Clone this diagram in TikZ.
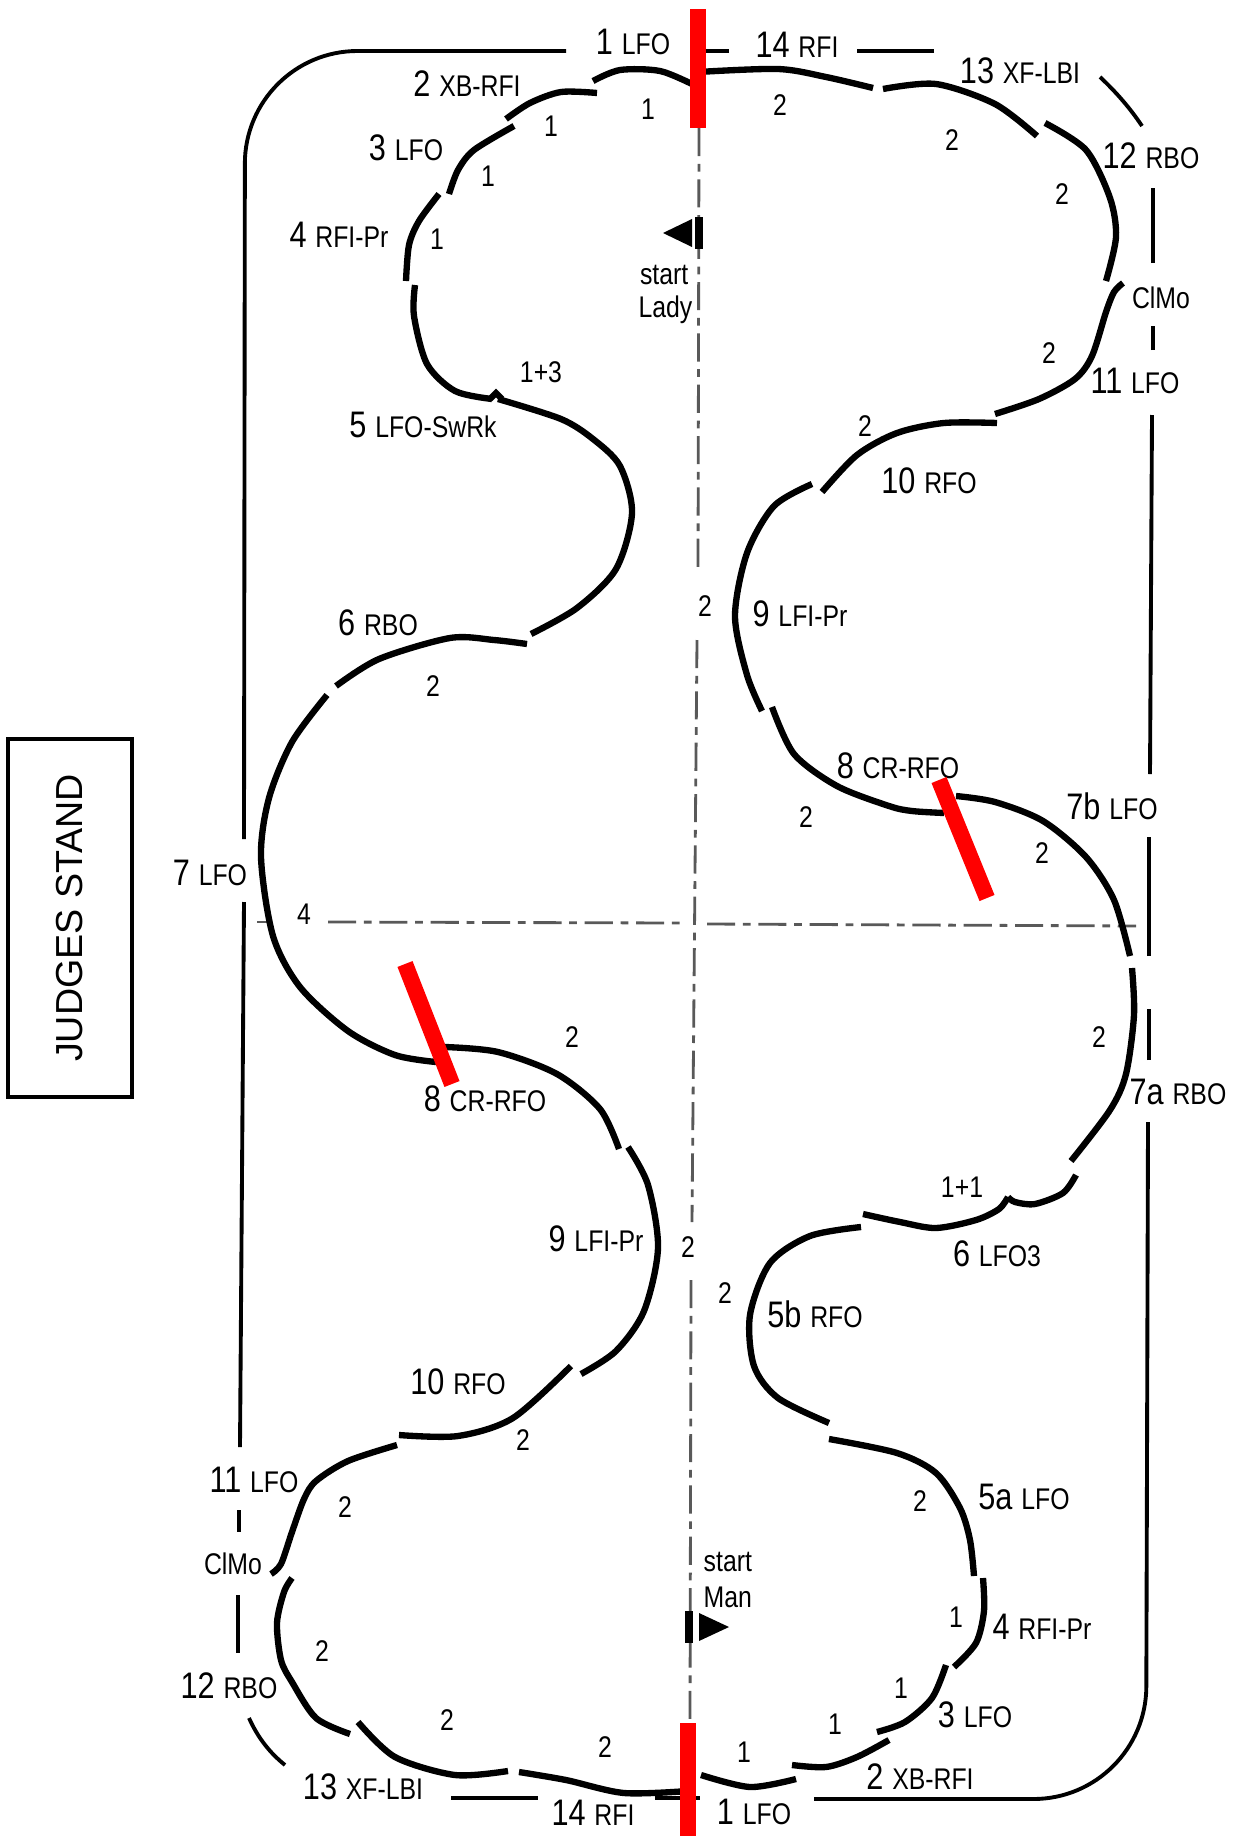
\documentclass[tikz,border=0pt]{standalone}
\usepackage{fontspec}
\setmainfont{Liberation Sans}
\newfontfamily\labfont[FakeStretch=0.83]{Liberation Sans}
\newcommand{\stp}[2]{{\fontsize{10.5}{12}\selectfont #1}\hspace{2.5pt}{\fontsize{8.5}{10}\selectfont #2}}
\tikzset{
  edge/.style={line width=1.8pt},
  rink/.style={line width=1.1pt},
  axis/.style={line width=0.8pt, black!65, dash pattern=on 8pt off 2.2pt on 2.2pt off 2.2pt},
  lab/.style={font=\labfont, inner sep=0pt},
  cnt/.style={font=\labfont\fontsize{8.5}{10}\selectfont, inner sep=0pt},
  roll/.style={red, line width=4.6pt},
  judge/.style={draw, line width=1.2pt, rotate=90, minimum width=101.6pt, minimum height=35.3pt, font=\fontsize{10.7}{12}\selectfont}
}
\begin{document}
\begin{tikzpicture}[x=0.01cm, y=-0.01cm]
    \useasboundingbox (0,0) rectangle (1239,1836);

    % rink border
    \draw[rink, rounded corners=32pt] (566,51) -- (245,51) -- (244,839);
    \draw[rink] (244,902) -- (240,1447);
    \draw[rink] (239,1510) -- (239,1532);
    \draw[rink] (238,1595) -- (238,1653);
    \draw[rink] (249,1718) .. controls (258,1738) and (270,1753) .. (285,1765);
    \draw[rink] (451,1798) -- (538,1798);
    \draw[rink] (655,1798) -- (700,1798);
    \draw[rink, rounded corners=32pt] (814,1799) -- (1146,1799) -- (1148,1122);
    \draw[rink] (1149,1060) -- (1149,1009);
    \draw[rink] (1149,956) -- (1149,837);
    \draw[rink] (1150,774) -- (1152,415);
    \draw[rink] (1153,350) -- (1153,326);
    \draw[rink] (1153,263) -- (1153,188);
    \draw[rink] (1142,126) .. controls (1130,108) and (1116,92) .. (1100,77);
    \draw[rink] (934,51) -- (857,51);
    \draw[rink] (729,51) -- (706,51);

    % judges stand
    \node[judge] (judges) at (70,918) {JUDGES STAND};

    % long and short axis
    \draw[axis] (699,128) -- (698,573);
    \draw[axis] (697,640) -- (692,1222);
    \draw[axis] (691,1280) -- (690,1723);
    \draw[axis] (257,922) -- (270,922);
    \draw[axis] (328,922) -- (681,923);
    \draw[axis] (707,924) -- (1136,926);

    % lady's half: steps 1 to 14
    \draw[edge] plot[smooth] coordinates {(593,81) (620,70) (660,71) (694,85)};
    \draw[edge] plot[smooth] coordinates {(597,93) (561,92) (530,103) (506,119)};
    \draw[edge] plot[smooth] coordinates {(514,126) (474,150) (458,170) (449,194)};
    \draw[edge] plot[smooth] coordinates {(439,194) (419,221) (409,245) (406,281)};
    \draw[edge] plot[smooth] coordinates {(415,285) (414,316) (427,364) (455,391) (492,399)};
    \draw[edge] (490,399) -- (496,393) -- (502,399);
    \draw[edge] plot[smooth] coordinates {(498,399) (561,419) (593,439) (620,466) (632,513) (616,569) (577,608) (531,634)};
    \draw[edge] plot[smooth] coordinates {(527,644) (494,640) (450,638) (379,659) (336,686)};
    \draw[edge] plot[smooth] coordinates {(327,695) (292,742) (269,798) (261,857) (273,936) (300,987) (348,1031) (395,1055) (436,1062)};
    \draw[edge] plot[smooth] coordinates {(445,1047) (498,1052) (557,1074) (600,1109) (619,1149)};
    \draw[edge] plot[smooth] coordinates {(628,1147) (648,1185) (658,1248) (644,1311) (616,1351) (581,1374)};
    \draw[edge] plot[smooth] coordinates {(571,1366) (513,1418) (458,1436) (399,1435)};
    \draw[edge] plot[smooth] coordinates {(397,1445) (348,1461) (316,1481) (304,1499) (292,1532) (281,1564) (271,1574)};
    \draw[edge] plot[smooth] coordinates {(292,1578) (284,1592) (277,1623) (281,1660) (292,1682) (316,1718) (350,1734)};
    \draw[edge] plot[smooth] coordinates {(358,1722) (395,1757) (455,1775) (508,1771)};
    \draw[edge] plot[smooth] coordinates {(519,1772) (566,1780) (624,1793) (688,1791)};

    % man's half: steps 1 to 14
    \draw[edge] plot[smooth] coordinates {(701,1775) (750,1787) (796,1779)};
    \draw[edge] plot[smooth] coordinates {(792,1765) (826,1767) (857,1757) (889,1740)};
    \draw[edge] plot[smooth] coordinates {(877,1732) (905,1722) (932,1698) (946,1665)};
    \draw[edge] plot[smooth] coordinates {(954,1667) (976,1643) (984,1611) (983,1578)};
    \draw[edge] plot[smooth] coordinates {(974,1576) (970,1540) (960,1508) (936,1473) (897,1453) (829,1439)};
    \draw[edge] plot[smooth] coordinates {(829,1423) (778,1398) (754,1366) (750,1315) (770,1263) (810,1236) (861,1227)};
    \draw[edge] plot[smooth] coordinates {(863,1214) (900,1222) (936,1228) (976,1220) (999,1209) (1008,1197)};
    \draw[edge] plot[smooth] coordinates {(1008,1197) (1015,1202) (1035,1204) (1063,1193) (1076,1175)};
    \draw[edge] plot[smooth] coordinates {(1071,1161) (1110,1110) (1126,1074) (1134,1015) (1132,968)};
    \draw[edge] plot[smooth] coordinates {(1130,956) (1114,900) (1086,857) (1043,821) (995,802) (956,796)};
    \draw[edge] plot[smooth] coordinates {(944,813) (912,811) (889,806) (837,786) (794,754) (772,707)};
    \draw[edge] plot[smooth] coordinates {(762,711) (747,675) (735,616) (747,553) (774,506) (812,484)};
    \draw[edge] plot[smooth] coordinates {(822,492) (857,455) (897,433) (944,423) (997,423)};
    \draw[edge] plot[smooth] coordinates {(995,414) (1039,399) (1075,379) (1092,356) (1106,312) (1114,292) (1123,283)};
    \draw[edge] plot[smooth] coordinates {(1106,281) (1116,237) (1110,198) (1086,150) (1045,123)};
    \draw[edge] plot[smooth] coordinates {(1037,136) (995,104) (936,84) (883,89)};
    \draw[edge] plot[smooth] coordinates {(873,88) (826,77) (778,69) (698,72)};

    % start marks
    \fill (663,233) -- (692,219) -- (692,247) -- cycle;
    \draw[line width=2.5pt] (699,217) -- (699,249);
    \fill (729,1627) -- (699,1613) -- (699,1641) -- cycle;
    \draw[line width=2.5pt] (689,1611) -- (689,1643);
    \node[cnt, anchor=east] (startl) at (689,275) {start};
    \node[cnt, anchor=east] (lady) at (693,310) {Lady};
    \node[cnt, anchor=west] (startm) at (703,1562) {start};
    \node[cnt, anchor=west] (man) at (703,1597) {Man};

    % step labels
    \node[lab] (l1) at (633,42) {\stp{1}{LFO}};
    \node[lab] (l2) at (467,84) {\stp{2}{XB-RFI}};
    \node[lab] (l3) at (406,148) {\stp{3}{LFO}};
    \node[lab] (l4) at (339,235) {\stp{4}{RFI-Pr}};
    \node[lab] (l5) at (423,425) {\stp{5}{LFO-SwRk}};
    \node[lab] (l6) at (378,623) {\stp{6}{RBO}};
    \node[lab] (l7) at (210,873) {\stp{7}{LFO}};
    \node[lab] (l8) at (485,1099) {\stp{8}{CR-RFO}};
    \node[lab] (l9) at (596,1239) {\stp{9}{LFI-Pr}};
    \node[lab] (l10) at (458,1382) {\stp{10}{RFO}};
    \node[lab] (l11) at (254,1480) {\stp{11}{LFO}};
    \node[cnt] (lmo) at (233,1564) {ClMo};
    \node[lab] (l12) at (229,1686) {\stp{12}{RBO}};
    \node[lab] (l13) at (363,1787) {\stp{13}{XF-LBI}};
    \node[lab] (l14) at (593,1813) {\stp{14}{RFI}};
    \node[lab] (m1) at (754,1812) {\stp{1}{LFO}};
    \node[lab] (m2) at (920,1777) {\stp{2}{XB-RFI}};
    \node[lab] (m3) at (975,1715) {\stp{3}{LFO}};
    \node[lab] (m4) at (1042,1627) {\stp{4}{RFI-Pr}};
    \node[lab] (m5a) at (1024,1497) {\stp{5a}{LFO}};
    \node[lab] (m5b) at (815,1314) {\stp{5b}{RFO}};
    \node[lab] (m6) at (997,1254) {\stp{6}{LFO3}};
    \node[lab] (m7a) at (1178,1092) {\stp{7a}{RBO}};
    \node[lab] (m7b) at (1112,806) {\stp{7b}{LFO}};
    \node[lab] (m8) at (898,766) {\stp{8}{CR-RFO}};
    \node[lab] (m9) at (800,614) {\stp{9}{LFI-Pr}};
    \node[lab] (m10) at (929,481) {\stp{10}{RFO}};
    \node[lab] (m11) at (1135,381) {\stp{11}{LFO}};
    \node[cnt] (mmo) at (1161,298) {ClMo};
    \node[lab] (m12) at (1151,156) {\stp{12}{RBO}};
    \node[lab] (m13) at (1020,71) {\stp{13}{XF-LBI}};
    \node[lab] (m14) at (797,45) {\stp{14}{RFI}};

    % beats
    \node[cnt] (c1) at (648,109) {1};
    \node[cnt] (c2) at (551,126) {1};
    \node[cnt] (c3) at (488,176) {1};
    \node[cnt] (c4) at (437,239) {1};
    \node[cnt] (c5) at (541,372) {1+3};
    \node[cnt] (c6) at (433,686) {2};
    \node[cnt] (c7) at (304,914) {4};
    \node[cnt] (c8) at (572,1037) {2};
    \node[cnt] (c9) at (688,1247) {2};
    \node[cnt] (c10) at (523,1440) {2};
    \node[cnt] (c11) at (345,1507) {2};
    \node[cnt] (c12) at (322,1651) {2};
    \node[cnt] (c13) at (447,1720) {2};
    \node[cnt] (c14) at (605,1747) {2};
    \node[cnt] (d1) at (744,1752) {1};
    \node[cnt] (d2) at (835,1724) {1};
    \node[cnt] (d3) at (901,1688) {1};
    \node[cnt] (d4) at (956,1617) {1};
    \node[cnt] (d5a) at (920,1501) {2};
    \node[cnt] (d5b) at (725,1293) {2};
    \node[cnt] (d6) at (962,1187) {1+1};
    \node[cnt] (d7a) at (1099,1037) {2};
    \node[cnt] (d7b) at (1042,853) {2};
    \node[cnt] (d8) at (806,817) {2};
    \node[cnt] (d9) at (705,606) {2};
    \node[cnt] (d10) at (865,426) {2};
    \node[cnt] (d11) at (1049,353) {2};
    \node[cnt] (d12) at (1062,194) {2};
    \node[cnt] (d13) at (952,140) {2};
    \node[cnt] (d14) at (780,105) {2};

    % cross rolls and start line
    \draw[roll] (698,9) -- (698,128);
    \draw[roll] (688,1723) -- (688,1836);
    \draw[roll] (405,964) -- (452,1084);
    \draw[roll] (939,780) -- (987,898);
\end{tikzpicture}
\end{document}
